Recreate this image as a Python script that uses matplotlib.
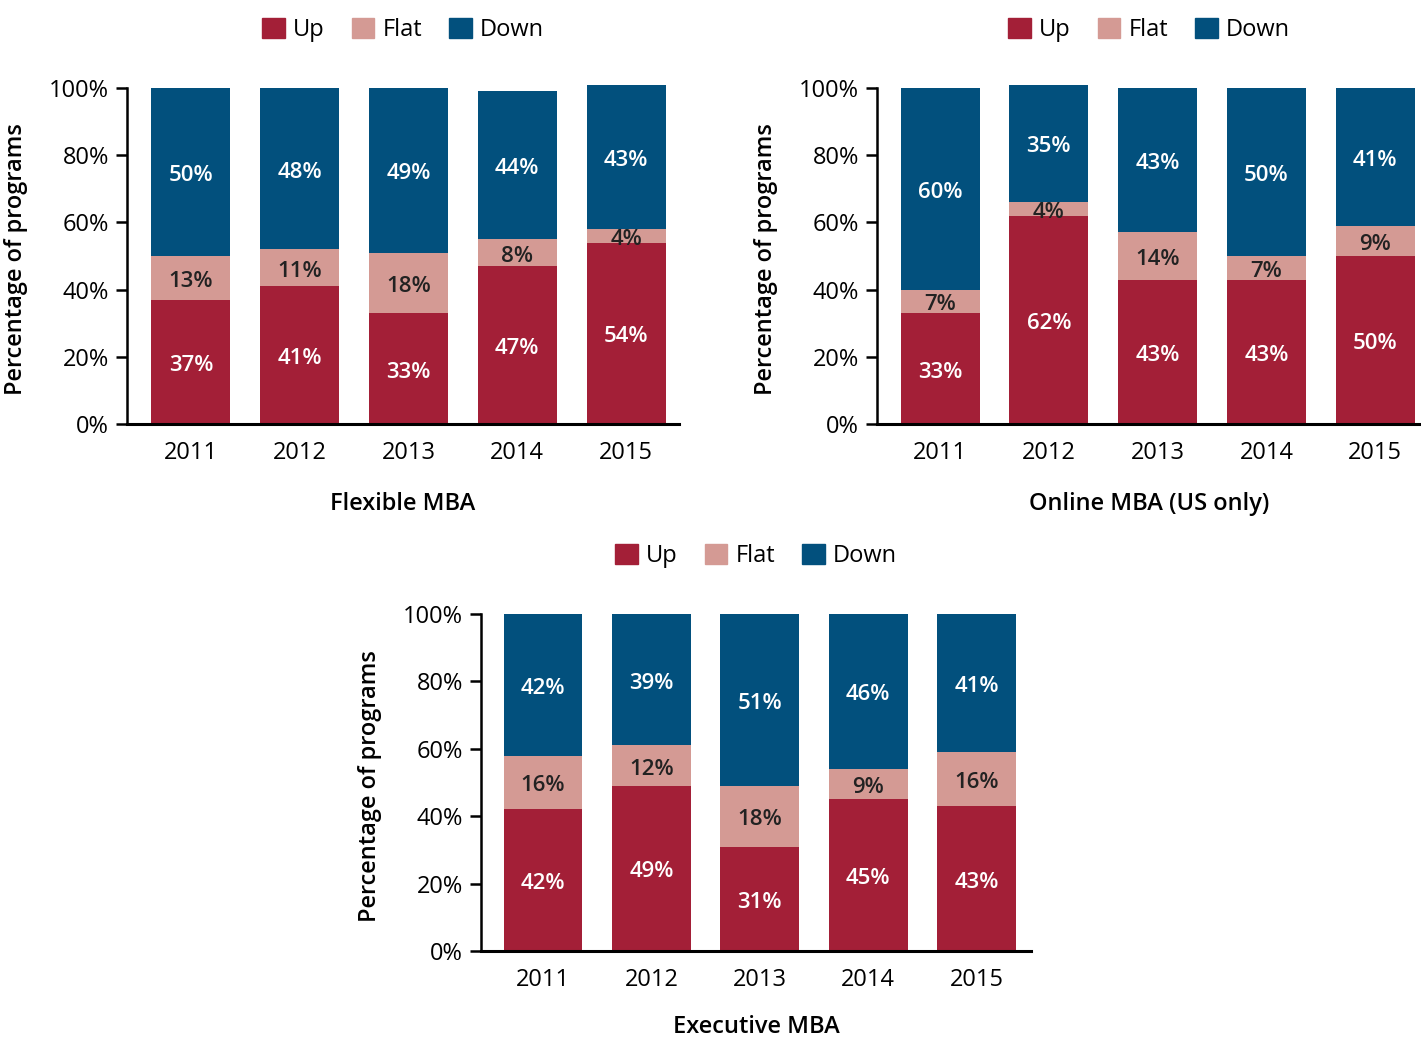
import matplotlib
matplotlib.use("Agg")
import matplotlib.pyplot as plt
from matplotlib.patches import Patch

plt.rcParams['font.family'] = ['Open Sans', 'DejaVu Sans']

years = ['2011', '2012', '2013', '2014', '2015']

flex_up = [37, 41, 33, 47, 54]
flex_flat = [13, 11, 18, 8, 4]
flex_down = [50, 48, 49, 44, 43]

online_up = [33, 62, 43, 43, 50]
online_flat = [7, 4, 14, 7, 9]
online_down = [60, 35, 43, 50, 41]

exec_up = [42, 49, 31, 45, 43]
exec_flat = [16, 12, 18, 9, 16]
exec_down = [42, 39, 51, 46, 41]

C_UP = '#A31F37'
C_FLAT = '#D49A94'
C_DOWN = '#02507D'

W, H = 1421, 1040
fig = plt.figure(figsize=(W / 100, H / 100), dpi=100)

FS = 17


def label(ax, x, y, s, color):
    ax.annotate(s, (x, y), xytext=(0, -2.5), textcoords='offset points',
                ha='center', va='center', color=color, fontsize=FS - 1,
                fontweight='semibold')


def panel(rect, xlim, up, flat, down, title, legend_y, title_y):
    ax = fig.add_axes(rect)
    x = range(len(years))
    bw = 0.726
    ax.bar(x, up, bw, color=C_UP, clip_on=False)
    ax.bar(x, flat, bw, bottom=up, color=C_FLAT, clip_on=False)
    base = [u + f for u, f in zip(up, flat)]
    ax.bar(x, down, bw, bottom=base, color=C_DOWN, clip_on=False)
    for i in x:
        label(ax, i, up[i] / 2, f'{up[i]}%', 'white')
        label(ax, i, up[i] + flat[i] / 2, f'{flat[i]}%', '#222222')
        label(ax, i, base[i] + down[i] / 2, f'{down[i]}%', 'white')
    ax.set_xlim(*xlim)
    ax.set_ylim(0, 100)
    ax.set_xticks(list(x))
    ax.set_xticklabels(years, fontsize=FS)
    ax.set_yticks(range(0, 101, 20))
    ax.set_yticklabels([f'{v}%' for v in range(0, 101, 20)], fontsize=FS)
    ax.tick_params(axis='x', length=0, pad=12)
    ax.tick_params(axis='y', length=8, width=1.8, direction='out', pad=5)
    for s in ['top', 'right']:
        ax.spines[s].set_visible(False)
    ax.spines['left'].set_linewidth(1.8)
    ax.spines['bottom'].set_linewidth(2.2)
    ax.set_ylabel('Percentage of programs', fontsize=FS, fontweight='semibold')
    ax.yaxis.set_label_coords(-99 / (rect[2] * W), 0.49)
    cx = rect[0] + rect[2] / 2
    fig.text(cx, title_y, title, ha='center', va='center', fontsize=FS,
             fontweight='semibold')
    handles = [Patch(color=C_UP, label='Up'), Patch(color=C_FLAT, label='Flat'),
               Patch(color=C_DOWN, label='Down')]
    fig.legend(handles=handles, loc='center', bbox_to_anchor=(cx, legend_y),
               ncol=3, frameon=False, fontsize=FS, handlelength=0.95,
               handleheight=0.95, handletextpad=0.35, columnspacing=1.15)
    return ax


panel([127 / W, 1 - 424 / H, 552 / W, 336 / H], (-0.588, 4.487),
      flex_up, flex_flat, flex_down, 'Flexible MBA', 1 - 30 / H, 1 - 504 / H)
panel([877 / W, 1 - 424 / H, 544 / W, 336 / H], (-0.579, 4.42),
      online_up, online_flat, online_down, 'Online MBA (US only)', 1 - 30 / H, 1 - 504 / H)
panel([481 / W, 1 - 951 / H, 550 / W, 337 / H], (-0.571, 4.50),
      exec_up, exec_flat, exec_down, 'Executive MBA', 1 - 556 / H, 1 - 1027 / H)

fig.savefig('out.png', dpi=100)
